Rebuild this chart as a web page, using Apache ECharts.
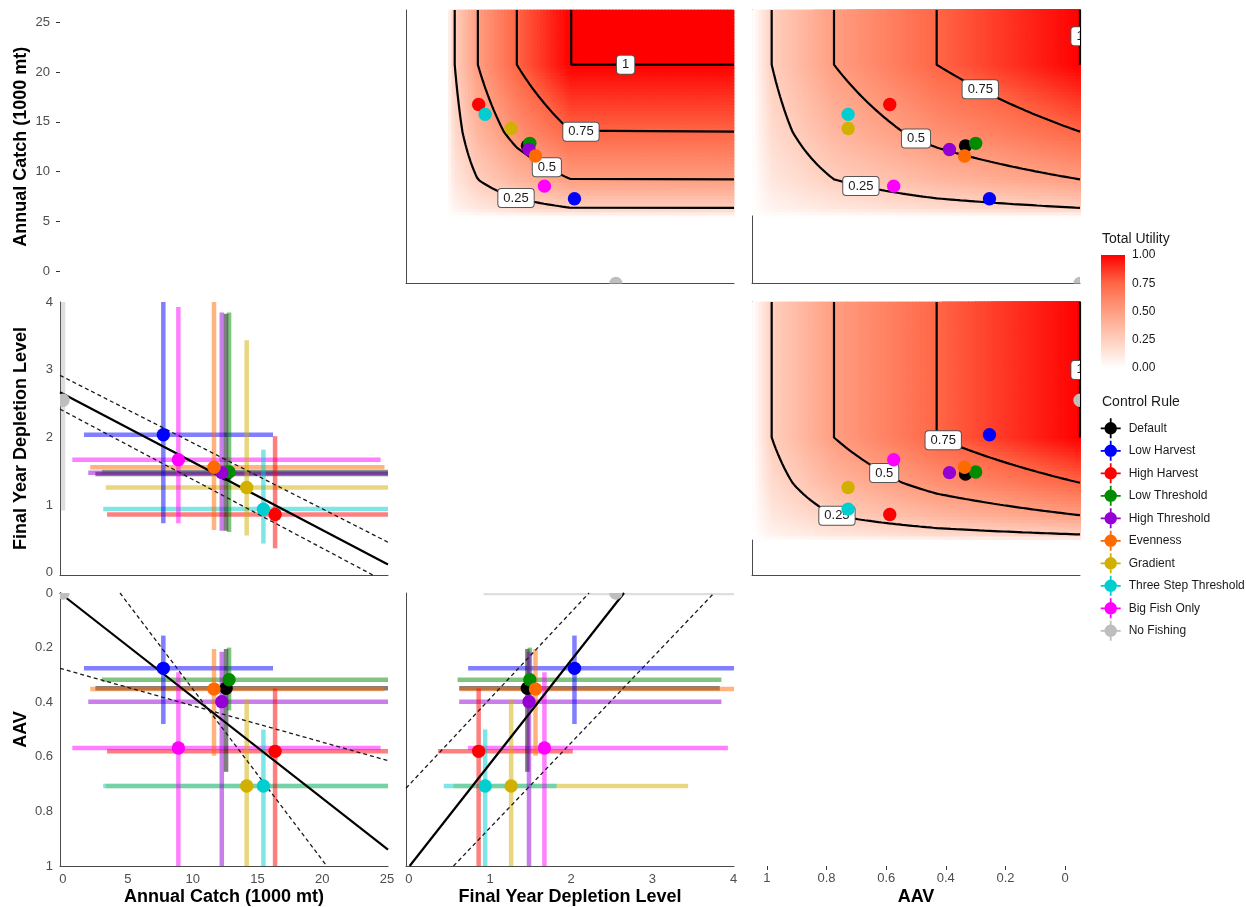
<!DOCTYPE html>
<html>
<head>
<meta charset="utf-8">
<title>Control rule trade-offs</title>
<script src="https://cdn.jsdelivr.net/npm/echarts@6/dist/echarts.min.js"></script>
<style>
  html, body { margin: 0; padding: 0; background: #ffffff; }
  #chart { width: 1246px; height: 907px; }
</style>
</head>
<body>
<div id="chart"></div>
<script>
// ---------------------------------------------------------------------------
// Data: control rules with median and interval of each performance metric
// ---------------------------------------------------------------------------
const rules = ['Default', 'Low Harvest', 'High Harvest', 'Low Threshold', 'High Threshold',
  'Evenness', 'Gradient', 'Three Step Threshold', 'Big Fish Only', 'No Fishing'];

const catchMid = [12.58, 7.74, 16.36, 12.81, 12.25, 11.65, 14.17, 15.46, 8.90, 0];
const catchLo  = [2.50, 1.62, 3.40, 3.00, 1.95, 2.10, 3.30, 3.10, 0.72, 0];
const catchHi  = [26, 16.2, 26, 26, 26, 24.8, 26, 26, 24.5, 0];

const deplMid = [1.46, 2.04, 0.86, 1.49, 1.48, 1.56, 1.26, 0.94, 1.67, 2.55];
const deplLo  = [0.62, 0.73, 0.36, 0.60, 0.62, 0.63, 0.55, 0.43, 0.73, 0.92];
const deplHi  = [3.83, 4.2, 2.02, 3.85, 3.85, 4.2, 3.44, 1.82, 3.93, 4.2];

const aavMid = [0.349, 0.276, 0.580, 0.318, 0.398, 0.352, 0.707, 0.707, 0.568, 0];
const aavLo  = [0.205, 0.156, 0.350, 0.200, 0.215, 0.205, 0.390, 0.500, 0.290, 0];
const aavHi  = [0.655, 0.480, 1.05, 0.430, 1.05, 0.596, 1.05, 1.05, 1.05, 0];

// Utility of each metric: [metric value, utility] break points
const catchUtility = [[6.05, 0], [6.92, 0.25], [9.52, 0.5], [13.88, 0.75], [20.0, 1]];
const deplUtility  = [[0.47, 0], [0.565, 0.25], [0.85, 0.5], [1.33, 0.75], [2.0, 1]];
const aavUtility   = [[1.0, 0], [0.94, 0.25], [0.75, 0.5], [0.437, 0.75], [0.0, 1]];
const contourLevels = [0.25, 0.5, 0.75, 1];

// Trend lines (solid) and their bounds (dashed), as end points
const fitDeplCatch    = [[-0.23, 2.67], [25.07, 0.12]];
const boundsDeplCatch = [[[-0.23, 2.92], [25.07, 0.45]], [[-0.23, 2.42], [23.9, -0.035]]];
const fitAavCatch     = [[-0.23, 0.0], [25.07, 0.94]];
const boundsAavCatch  = [[[4.4, 0], [20.35, 1]], [[-0.23, 0.276], [25.07, 0.614]]];
const fitAavDepl      = [[0.01, 1], [2.65, 0]];
const boundsAavDepl   = [[[-0.035, 0.715], [2.22, 0]], [[0.55, 1], [3.76, 0]]];

// Tick labels
const catchTicks   = [0, 5, 10, 15, 20, 25];
const deplTicks    = [0, 1, 2, 3, 4];
const aavTicks     = [0, 0.2, 0.4, 0.6, 0.8, 1];
const utilityTicks = [0, 0.25, 0.5, 0.75, 1];

// ---------------------------------------------------------------------------
// Styles and layout
// ---------------------------------------------------------------------------
const ruleColors = ['#000000', '#0000FF', '#FF0000', '#008B00', '#9400D3',
  '#FF6A00', '#D2B000', '#00CED1', '#FF00FF', '#BEBEBE'];
const utilityColors = ['#FFFFFF', '#FFCFBE', '#FF9E81', '#FF6746', '#FF0000'];
const FONT = '"Liberation Sans", Arial, Helvetica, sans-serif';
const TICK_GRAY = '#4d4d4d';
const LINE_GRAY = '#4a4a4a';

const catchPanelY = [0, 25];
const catchPanelX = [-0.23, 25.07];
const catchDiagY  = [-1.25, 26.25];
const deplPanel   = [-0.035, 4.005];
const aavPanel    = [0, 1];
const aavDiag     = [-0.05, 1.05];

// [left, top, width, height] of every panel
const boxes = [
  [60, 10, 328, 273.5],   // 0: catch diagonal (row labels only)
  [406, 10, 328, 273.5],  // 1: catch vs depletion utility
  [752, 10, 328, 273.5],  // 2: catch vs AAV utility
  [60, 302, 328, 273],    // 3: depletion vs catch
  [752, 302, 328, 273],   // 4: depletion vs AAV utility
  [60, 593, 328, 273],    // 5: AAV vs catch
  [406, 593, 328, 273],   // 6: AAV vs depletion
  [752, 593, 328, 273],   // 7: AAV diagonal (column labels only)
  [1101, 255, 24, 113]    // 8: utility colour bar
];

// ---------------------------------------------------------------------------
// Utility helpers
// ---------------------------------------------------------------------------
function utilAt(table, v) {
  const first = table[0], last = table[table.length - 1];
  const inc = last[0] > first[0];
  if (inc ? v <= first[0] : v >= first[0]) return 0;
  if (inc ? v >= last[0] : v <= last[0]) return 1;
  for (let i = 1; i < table.length; i++) {
    const a = table[i - 1], b = table[i];
    if (inc ? v <= b[0] : v >= b[0]) {
      const f = (v - a[0]) / (b[0] - a[0]);
      return a[1] + f * (b[1] - a[1]);
    }
  }
  return 1;
}
function valueAt(table, u) {
  for (let i = 1; i < table.length; i++) {
    const a = table[i - 1], b = table[i];
    if (u <= b[1]) {
      const f = (u - a[1]) / (b[1] - a[1]);
      return a[0] + f * (b[0] - a[0]);
    }
  }
  return table[table.length - 1][0];
}

// ---------------------------------------------------------------------------
// Axes
// ---------------------------------------------------------------------------
function axis(gi, range, o) {
  o = o || {};
  return {
    type: 'value', gridIndex: gi, min: range[0], max: range[1], inverse: !!o.inverse,
    show: o.show !== false, position: o.position,
    axisLine: { show: o.line !== false, onZero: false, lineStyle: { color: LINE_GRAY, width: 1 } },
    axisTick: { show: !!o.ticks, length: 4, customValues: o.ticks, inside: !!o.tickInside,
      lineStyle: { color: o.tickColor || '#333333', width: 1 } },
    axisLabel: { show: !!o.labels, customValues: o.labels, margin: o.margin || 7,
      color: o.labelColor || TICK_GRAY, fontSize: o.labelSize || 13, fontFamily: FONT,
      formatter: o.fmt },
    splitLine: { show: false },
    name: o.name || '', nameLocation: 'middle', nameGap: o.nameGap || 22, nameRotate: o.nameRotate,
    nameTextStyle: { fontSize: 18, fontWeight: 'bold', color: '#000000', fontFamily: FONT }
  };
}

const xAxes = [
  axis(0, [0, 1], { show: false }),
  axis(1, deplPanel),
  axis(2, aavPanel, { inverse: true }),
  axis(3, catchPanelX),
  axis(4, aavPanel, { inverse: true }),
  axis(5, catchPanelX, { labels: catchTicks, name: 'Annual Catch (1000 mt)' }),
  axis(6, deplPanel, { labels: deplTicks, name: 'Final Year Depletion Level' }),
  axis(7, aavDiag, { inverse: true, line: false, ticks: aavTicks, labels: aavTicks, margin: 6, name: 'AAV' }),
  axis(8, [0, 1], { show: false })
];
const yAxes = [
  axis(0, catchDiagY, { line: false, ticks: catchTicks, labels: catchTicks, margin: 10,
    name: 'Annual Catch (1000 mt)', nameRotate: 90, nameGap: 30 }),
  axis(1, catchPanelY),
  axis(2, catchPanelY),
  axis(3, deplPanel, { labels: deplTicks, name: 'Final Year Depletion Level', nameRotate: 90, nameGap: 30 }),
  axis(4, deplPanel),
  axis(5, aavPanel, { inverse: true, labels: aavTicks, name: 'AAV', nameRotate: 90, nameGap: 30 }),
  axis(6, aavPanel, { inverse: true }),
  axis(7, [0, 1], { show: false }),
  axis(8, [0, 1], { position: 'right', line: false, ticks: utilityTicks, tickInside: true, tickColor: '#ffffff',
    labels: utilityTicks, labelColor: '#1a1a1a', labelSize: 12, margin: 7, fmt: v => Number(v).toFixed(2) }),
  axis(8, [0, 1], { position: 'left', line: false, ticks: utilityTicks, tickInside: true, tickColor: '#ffffff' })
];

// ---------------------------------------------------------------------------
// Series builders
// ---------------------------------------------------------------------------
const series = [];
const heatIndices = [];

function addHeat(gi, xTable, xRange, yTable, yRange) {
  const nx = 100, ny = 84, data = [];
  const dx = (xRange[1] - xRange[0]) / nx, dy = (yRange[1] - yRange[0]) / ny;
  for (let i = 0; i < nx; i++) {
    for (let j = 0; j < ny; j++) {
      const x0 = xRange[0] + i * dx, y0 = yRange[0] + j * dy;
      const u = utilAt(xTable, x0 + dx / 2) * utilAt(yTable, y0 + dy / 2);
      if (u > 0.002) data.push([x0 + dx / 2, y0 + dy / 2, u, x0, x0 + dx, y0, y0 + dy]);
    }
  }
  heatIndices.push(series.length);
  series.push({
    type: 'custom', name: 'Total Utility', xAxisIndex: gi, yAxisIndex: gi, data,
    silent: true, clip: true, z: 1, encode: { x: 0, y: 1 },
    renderItem(params, api) {
      const a = api.coord([api.value(3), api.value(5)]);
      const b = api.coord([api.value(4), api.value(6)]);
      const x = Math.min(a[0], b[0]), y = Math.min(a[1], b[1]);
      return {
        type: 'rect',
        shape: { x: x - 0.4, y: y - 0.4, width: Math.abs(b[0] - a[0]) + 0.8, height: Math.abs(b[1] - a[1]) + 0.8 },
        style: { fill: api.visual('color') }
      };
    }
  });
}

function addContours(gi, xTable, xEdge, yTable, yEdge, labelSpec) {
  contourLevels.forEach(level => {
    const pts = [[valueAt(xTable, level), yEdge]];
    const steps = 90;
    for (let k = 0; k <= steps; k++) {
      const t = level + (1 - level) * k / steps;
      pts.push([valueAt(xTable, t), valueAt(yTable, level / t)]);
    }
    pts.push([xEdge, valueAt(yTable, level)]);
    series.push({
      type: 'line', xAxisIndex: gi, yAxisIndex: gi, data: pts, symbol: 'none', silent: true,
      clip: true, z: 2, lineStyle: { color: '#000000', width: 2.2 }
    });
  });
  const labels = labelSpec.map(([level, along, v]) => {
    let x, y;
    if (along === 'x') { x = v; y = valueAt(yTable, level / utilAt(xTable, v)); }
    else { y = v; x = valueAt(xTable, level / utilAt(yTable, v)); }
    return [x, y, level];
  });
  series.push({
    type: 'custom', name: 'contour labels', xAxisIndex: gi, yAxisIndex: gi, data: labels,
    silent: true, clip: true, z: 3, encode: { x: 0, y: 1 },
    renderItem(params, api) {
      const p = api.coord([api.value(0), api.value(1)]);
      return {
        type: 'text', x: p[0], y: p[1],
        style: {
          text: String(api.value(2)), align: 'center', verticalAlign: 'middle',
          fontSize: 13, fontFamily: FONT, fill: '#1a1a1a',
          backgroundColor: '#ffffff', borderColor: '#555555', borderWidth: 1, borderRadius: 3,
          padding: [3, 5, 2, 5]
        }
      };
    }
  });
}

function addErrorBars(gi, xMid, xLo, xHi, yMid, yLo, yHi) {
  const data = [];
  rules.forEach((r, i) => { if (xHi[i] > xLo[i]) data.push([i, xLo[i], yMid[i], xHi[i], yMid[i]]); });
  rules.forEach((r, i) => { if (yHi[i] > yLo[i]) data.push([i, xMid[i], yLo[i], xMid[i], yHi[i]]); });
  series.push({
    type: 'custom', name: 'interval', xAxisIndex: gi, yAxisIndex: gi, data, silent: true, clip: true, z: 2,
    encode: { x: [1, 3], y: [2, 4] },
    renderItem(params, api) {
      const a = api.coord([api.value(1), api.value(2)]);
      const b = api.coord([api.value(3), api.value(4)]);
      return {
        type: 'line', shape: { x1: a[0], y1: a[1], x2: b[0], y2: b[1] },
        style: { stroke: ruleColors[api.value(0)], lineWidth: 4.5, opacity: 0.5, lineCap: 'butt' }
      };
    }
  });
}

function addTrend(gi, fit, bounds) {
  series.push({
    type: 'line', xAxisIndex: gi, yAxisIndex: gi, data: fit, symbol: 'none', silent: true, clip: true, z: 4,
    lineStyle: { color: '#000000', width: 2.2 }
  });
  bounds.forEach(b => series.push({
    type: 'line', xAxisIndex: gi, yAxisIndex: gi, data: b, symbol: 'none', silent: true, clip: true, z: 4,
    lineStyle: { color: '#1a1a1a', width: 1.3, type: [4, 3] }
  }));
}

// Rule medians as filled circles, clipped to the panel
function addPoints(gi, xs, ys) {
  rules.forEach((r, i) => series.push({
    type: 'custom', name: r, xAxisIndex: gi, yAxisIndex: gi, data: [[xs[i], ys[i]]],
    itemStyle: { color: ruleColors[i] }, silent: true, clip: true, z: 5, encode: { x: 0, y: 1 },
    renderItem(params, api) {
      const p = api.coord([api.value(0), api.value(1)]);
      return { type: 'circle', shape: { cx: p[0], cy: p[1], r: 6.7 }, style: { fill: ruleColors[i] } };
    }
  }));
}

// Upper panels: utility surfaces with rule medians
addHeat(1, deplUtility, deplPanel, catchUtility, catchPanelY);
addContours(1, deplUtility, deplPanel[1], catchUtility, catchPanelY[1],
  [[1, 'x', 2.67], [0.75, 'x', 2.12], [0.5, 'x', 1.70], [0.25, 'x', 1.32]]);
addPoints(1, deplMid, catchMid);

addHeat(2, aavUtility, aavPanel, catchUtility, catchPanelY);
addContours(2, aavUtility, 0, catchUtility, catchPanelY[1],
  [[1, 'y', 22.6], [0.75, 'x', 0.304], [0.5, 'x', 0.5], [0.25, 'x', 0.668]]);
addPoints(2, aavMid, catchMid);

addHeat(4, aavUtility, aavPanel, deplUtility, deplPanel);
addContours(4, aavUtility, 0, deplUtility, deplPanel[1],
  [[1, 'y', 3.0], [0.75, 'x', 0.417], [0.5, 'x', 0.597], [0.25, 'x', 0.741]]);
addPoints(4, aavMid, deplMid);

// Lower panels: intervals, trends and medians
addErrorBars(3, catchMid, catchLo, catchHi, deplMid, deplLo, deplHi);
addTrend(3, fitDeplCatch, boundsDeplCatch);
addPoints(3, catchMid, deplMid);

addErrorBars(5, catchMid, catchLo, catchHi, aavMid, aavLo, aavHi);
addTrend(5, fitAavCatch, boundsAavCatch);
addPoints(5, catchMid, aavMid);

addErrorBars(6, deplMid, deplLo, deplHi, aavMid, aavLo, aavHi);
addTrend(6, fitAavDepl, boundsAavDepl);
addPoints(6, deplMid, aavMid);

// Colour bar for total utility
series.push({
  type: 'custom', name: 'colourbar', xAxisIndex: 8, yAxisIndex: 8, silent: true, z: 1,
  data: [[0, utilityTicks[0], 1, utilityTicks[utilityTicks.length - 1]]],
  renderItem(params, api) {
    const a = api.coord([api.value(0), api.value(3)]);
    const b = api.coord([api.value(2), api.value(1)]);
    const n = utilityColors.length;
    const stops = utilityColors.map((c, k) => ({ offset: k / (n - 1), color: utilityColors[n - 1 - k] }));
    return {
      type: 'rect', shape: { x: a[0], y: a[1], width: b[0] - a[0], height: b[1] - a[1] },
      style: { fill: new echarts.graphic.LinearGradient(0, 0, 0, 1, stops) }
    };
  }
});

const chart = echarts.init(document.getElementById('chart'), null, { renderer: 'canvas' });
chart.setOption({
  backgroundColor: '#ffffff',
  animation: false,
  textStyle: { fontFamily: FONT },
  title: [
    { text: 'Total Utility', left: 1102, top: 232, padding: 0,
      textStyle: { fontSize: 14, fontWeight: 'normal', color: '#1a1a1a', fontFamily: FONT } },
    { text: 'Control Rule', left: 1102, top: 395, padding: 0,
      textStyle: { fontSize: 14, fontWeight: 'normal', color: '#1a1a1a', fontFamily: FONT } }
  ],
  grid: boxes.map(b => ({ left: b[0], top: b[1], width: b[2], height: b[3], containLabel: false, outerBoundsMode: 'none' })),
  xAxis: xAxes,
  yAxis: yAxes,
  visualMap: {
    type: 'continuous', show: false, min: 0, max: 1, dimension: 2, seriesIndex: heatIndices,
    inRange: { color: utilityColors }
  },
  legend: {
    data: rules, orient: 'vertical', left: 1100.7, top: 418.3, padding: 0,
    itemWidth: 26, itemHeight: 20, itemGap: 2.5, selectedMode: false,
    icon: 'path://M1,9.2h18v1.6h-18z M9.2,1h1.6v18h-1.6z M15.6,10A5.6,5.6 0 1,1 4.4,10A5.6,5.6 0 1,1 15.6,10z',
    textStyle: { fontSize: 12, color: '#1a1a1a', fontFamily: FONT }
  },
  series
});
</script>
</body>
</html>
